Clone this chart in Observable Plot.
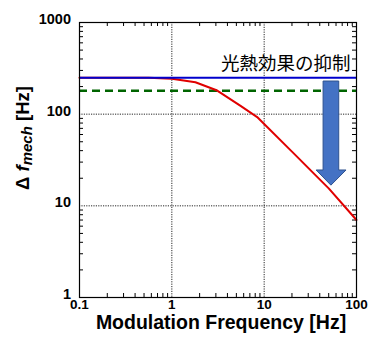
<!DOCTYPE html>
<html>
<head>
<meta charset="utf-8">
<script src="https://cdn.jsdelivr.net/npm/d3@7"></script>
<script src="https://cdn.jsdelivr.net/npm/@observablehq/plot@0.6"></script>
<style>
  html, body { margin: 0; padding: 0; background: #fff; }
  #chart { position: relative; width: 370px; height: 337px; }
  #ytitle { position: absolute; left: 23px; top: 138px; transform: translate(-50%, -50%) rotate(-90deg);
    font: bold 18.5px "Liberation Sans", Arial, sans-serif; white-space: nowrap; color: #000; line-height: 1; }
  #ytitle sub { font-size: 15px; vertical-align: -3px; line-height: 0; }
</style>
</head>
<body>
<div id="chart"><div id="ytitle">Δ <i>f<sub>mech</sub></i> [Hz]</div></div>
<script>
// Data
const freq = [0.1, 0.56, 1, 1.8, 3.1, 5.5, 8.4, 10, 20, 50, 100];
const deltaF = [250, 249, 243, 223, 181, 124, 93, 78, 39, 15.5, 7];
const blueLevel = 250;   // Hz
const greenLevel = 180;  // Hz
const xTickValues = [0.1, 1, 10, 100];
const xTickLabels = ["0.1", "1", "10", "100"];
const yTickValues = [1, 10, 100, 1000];
const yTickLabels = ["1", "10", "100", "1000"];
const xGrid = [1, 10];
const yGrid = [10, 100];
const annotation = "光熱効果の抑制";
const annotationPos = {f: 100, v: 355};
// arrow (frequency / Hz)
const arrowShaft = [44, 65];
const arrowHead = [37, 78];
const arrowCenter = 53.5;
const arrowTop = 227;
const arrowHeadBase = 24.3;
const arrowTip = 16.6;

const decades = [0.1, 1, 10];
const xMinor = decades.flatMap(d => [2,3,4,5,6,7,8,9].map(k => k * d));
const yMinor = [1, 10, 100].flatMap(d => [2,3,4,5,6,7,8,9].map(k => k * d));

const W = 370, H = 337;
const mL = 79, mR = 14, mT = 22, mB = 40;
const pw = W - mL - mR, ph = H - mT - mB;
const curve = freq.map((f, i) => ({f, v: deltaF[i]}));
const font = '"Liberation Sans", Arial, sans-serif';

const arrowMark = (index, scales) => {
  const x = scales.x, y = scales.y;
  const pts = [
    [x(arrowShaft[0]), y(arrowTop)],
    [x(arrowShaft[1]), y(arrowTop)],
    [x(arrowShaft[1]), y(arrowHeadBase)],
    [x(arrowHead[1]), y(arrowHeadBase)],
    [x(arrowCenter), y(arrowTip)],
    [x(arrowHead[0]), y(arrowHeadBase)],
    [x(arrowShaft[0]), y(arrowHeadBase)]
  ];
  const p = document.createElementNS("http://www.w3.org/2000/svg", "path");
  p.setAttribute("d", "M" + pts.map(q => q.join(",")).join("L") + "Z");
  p.setAttribute("fill", "#4472C4");
  p.setAttribute("stroke", "#2F528F");
  p.setAttribute("stroke-width", "1");
  return p;
};

const chart = Plot.plot({
  width: W, height: H,
  marginLeft: mL, marginRight: mR, marginTop: mT, marginBottom: mB,
  style: {fontFamily: font, background: "white", overflow: "visible"},
  x: {type: "log", domain: [0.1, 100], axis: null},
  y: {type: "log", domain: [1, 1000], axis: null},
  marks: [
    Plot.ruleX(xGrid, {stroke: "#000", strokeWidth: 1, strokeDasharray: "1.2,1.2", strokeOpacity: 0.85}),
    Plot.ruleY(yGrid, {stroke: "#000", strokeWidth: 1, strokeDasharray: "1.2,1.2", strokeOpacity: 0.85}),
    // minor ticks inside frame
    Plot.ruleX(xMinor, {stroke: "#000", insetTop: ph - 4}),
    Plot.ruleX(xMinor, {stroke: "#000", insetBottom: ph - 4}),
    Plot.ruleY(yMinor, {stroke: "#000", insetRight: pw - 4}),
    Plot.ruleY(yMinor, {stroke: "#000", insetLeft: pw - 4}),
    Plot.ruleY([greenLevel], {stroke: "#006400", strokeWidth: 2.3, strokeDasharray: "8,5"}),
    Plot.line(curve, {x: "f", y: "v", stroke: "#e00000", strokeWidth: 2}),
    Plot.ruleY([blueLevel], {stroke: "#0000cc", strokeWidth: 2}),
    arrowMark,
    Plot.text([annotation], {x: annotationPos.f, y: annotationPos.v, text: d => d, textAnchor: "end", dx: -6,
      fontSize: 18.5, fontFamily: '"Noto Sans CJK JP", sans-serif', fill: "#000"}),
    Plot.frame({stroke: "#000", strokeWidth: 1.2}),
    Plot.text(xTickValues, {x: d => d, frameAnchor: "bottom", dy: 11, text: (d, i) => xTickLabels[i],
      fontSize: 13.5, fontWeight: "bold", fill: "#000"}),
    Plot.text(yTickValues, {y: d => d, frameAnchor: "left", dx: -8.5, dy: -3, textAnchor: "end", text: (d, i) => yTickLabels[i],
      fontSize: 14.5, fontWeight: "bold", fill: "#000"}),
    Plot.text(["Modulation Frequency [Hz]"], {frameAnchor: "bottom", dx: 3, dy: 31, text: d => d,
      fontSize: 19.5, fontWeight: "bold", fill: "#000"})
  ]
});
document.getElementById("chart").prepend(chart);
</script>
</body>
</html>
